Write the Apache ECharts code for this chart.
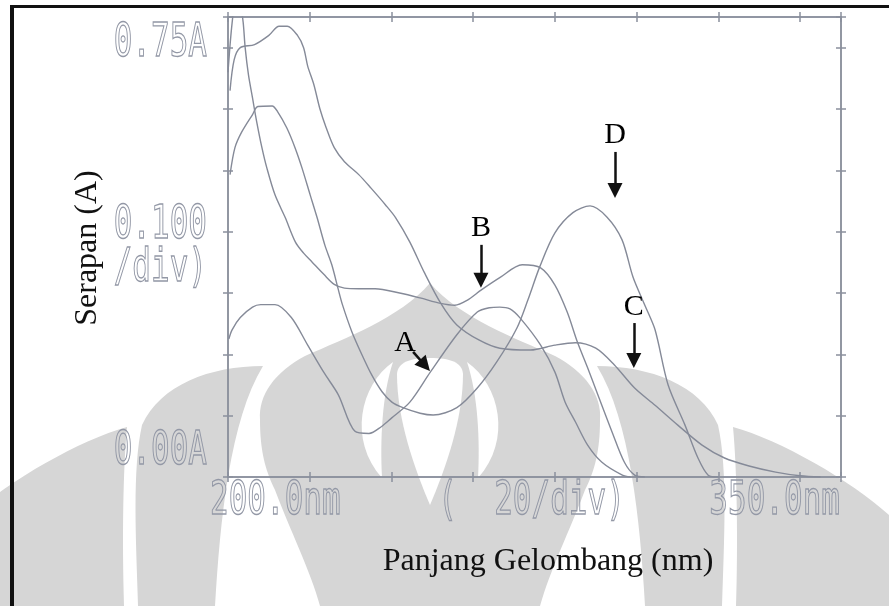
<!DOCTYPE html>
<html>
<head>
<meta charset="utf-8">
<script src="https://cdn.jsdelivr.net/npm/echarts@6/dist/echarts.min.js"></script>
<style>
  html, body { margin: 0; padding: 0; background: #ffffff; }
  #chart { width: 889px; height: 606px; }
</style>
</head>
<body>
<div id="chart"></div>
<script>
// Absorption spectra of four samples (A-D), 200-350 nm, 0-0.75 A.
const curveA_nm  = [200.2, 201, 203, 206, 208, 211.5, 215.5, 219.5, 223.5, 227, 231, 234.5, 237.5, 240, 244.5, 249.5, 256, 261, 264, 266.5, 269, 271.5, 276.5, 280, 282.5, 285, 288, 291.5, 296.5, 298.5];
const curveA_abs = [0.225, 0.24, 0.26, 0.277, 0.281, 0.281, 0.26, 0.215, 0.17, 0.134, 0.075, 0.071, 0.082, 0.096, 0.122, 0.171, 0.232, 0.269, 0.276, 0.277, 0.274, 0.259, 0.215, 0.171, 0.122, 0.09, 0.052, 0.024, 0.003, 0];

const curveB_nm  = [200, 201, 202, 203, 203.7, 204.2, 205, 206, 207, 208.3, 209.5, 211.5, 214, 216.5, 218.5, 220.5, 223.5, 226, 228.5, 232, 236, 242, 247, 252, 255.5, 258.5, 262, 266.5, 272, 276.5, 280, 283, 285.5, 288, 290.5, 294, 297, 299.5, 302];
const curveB_abs = [0.66, 0.74, 0.78, 0.77, 0.742, 0.70, 0.656, 0.618, 0.58, 0.537, 0.504, 0.46, 0.423, 0.383, 0.365, 0.351, 0.33, 0.314, 0.308, 0.307, 0.307, 0.30, 0.292, 0.283, 0.28, 0.288, 0.305, 0.325, 0.346, 0.341, 0.313, 0.269, 0.22, 0.178, 0.134, 0.073, 0.024, 0.003, 0];

const curveC_nm  = [200.5, 201.5, 203, 206.5, 210, 212.5, 214.5, 217, 218.5, 219.5, 221, 222.5, 224, 226, 228.5, 232, 235, 238.5, 241, 244.5, 248, 252, 256, 261.5, 266.5, 274, 280, 285, 290, 294.5, 299.5, 304.5, 310, 316, 321.5, 327.5, 334, 340, 345];
const curveC_abs = [0.63, 0.68, 0.70, 0.705, 0.72, 0.735, 0.735, 0.72, 0.70, 0.67, 0.64, 0.60, 0.57, 0.537, 0.514, 0.493, 0.471, 0.444, 0.423, 0.383, 0.334, 0.284, 0.248, 0.223, 0.21, 0.207, 0.215, 0.219, 0.21, 0.183, 0.145, 0.117, 0.085, 0.052, 0.031, 0.018, 0.008, 0.002, 0];

const curveD_nm  = [200.5, 201.7, 203.4, 206, 207.3, 210.8, 212.2, 214.4, 216.4, 218.1, 220.1, 221.8, 223.7, 225.4, 226.9, 228, 230.3, 232.8, 235.2, 237.7, 240.1, 242.8, 247, 250.2, 256, 261, 265.8, 270.7, 273.4, 276.3, 280, 284.4, 288.6, 292.7, 296.4, 299.1, 302, 304.5, 307.7, 311.8, 315, 317.5, 320];
const curveD_abs = [0.493, 0.537, 0.563, 0.591, 0.604, 0.605, 0.595, 0.569, 0.537, 0.504, 0.46, 0.423, 0.378, 0.346, 0.308, 0.281, 0.237, 0.199, 0.166, 0.139, 0.122, 0.113, 0.104, 0.101, 0.113, 0.145, 0.188, 0.243, 0.289, 0.343, 0.398, 0.431, 0.442, 0.424, 0.387, 0.326, 0.28, 0.24, 0.15, 0.085, 0.031, 0.003, 0];

// Plotter-style axis annotations
const xTickValues = [200, 275, 350];
const xTickLabels = ['200.0nm', '(  20/div)', '350.0nm'];
const yTickValues = [0.75, 0.375, 0];
const yTickLabels = [['0.75A'], ['0.100', '/div)'], ['0.00A']];

const xTitle = 'Panjang Gelombang (nm)';
const yTitle = 'Serapan (A)';

// Pointer arrows (data coordinates): [from, to]
const arrows = {
  A: [[245.3, 0.204], [248.2, 0.182]],
  B: [[261.9, 0.3785], [261.9, 0.3206]],
  C: [[299.3, 0.251], [299.3, 0.190]],
  D: [[294.7, 0.530], [294.7, 0.467]]
};

const AXIS_COLOR = '#8b909d';
const TEXT_GRAY = '#9398a6';
const CURVE_COLOR = '#858a98';
const EMBLEM_GRAY = '#d6d6d6';
const INK = '#111111';

const chart = echarts.init(document.getElementById('chart'), null, { renderer: 'canvas' });

function xAxisDef(position, inside) {
  return {
    type: 'value', position, min: 200, max: 350, interval: 20,
    axisLine: { show: true, onZero: false, lineStyle: { color: AXIS_COLOR, width: 1.5 } },
    axisTick: { show: true, inside, length: 5, lineStyle: { color: AXIS_COLOR, width: 1.5 } },
    axisLabel: { show: false }, splitLine: { show: false }
  };
}
function yAxisDef(position, inside) {
  return {
    type: 'value', position, min: 0, max: 0.75, interval: 0.1,
    axisLine: { show: true, onZero: false, lineStyle: { color: AXIS_COLOR, width: 1.5 } },
    axisTick: { show: true, inside, length: 5, lineStyle: { color: AXIS_COLOR, width: 1.5 } },
    axisLabel: { show: false }, splitLine: { show: false }
  };
}

function spectrum(name, nm, abs, arrow, labelDistance) {
  return {
    type: 'line', name,
    data: nm.map((x, i) => [x, abs[i]]),
    xAxisIndex: 0, yAxisIndex: 0,
    showSymbol: false, smooth: 0.3, clip: true, animation: false, silent: true,
    lineStyle: { color: CURVE_COLOR, width: 1.4 },
    markLine: {
      silent: true, animation: false,
      symbol: ['none', 'triangle'], symbolSize: 15,
      lineStyle: { color: INK, width: 2.5, type: 'solid' },
      itemStyle: { color: INK },
      label: {
        show: true, position: 'start', formatter: name, distance: labelDistance,
        color: '#000', fontFamily: '"Liberation Serif", "Times New Roman", serif', fontSize: 30
      },
      emphasis: { disabled: true },
      data: [[{ coord: arrow[0] }, { coord: arrow[1] }]]
    }
  };
}

const option = {
  backgroundColor: '#ffffff',
  animation: false,
  grid: { left: 228, right: 48, top: 17, bottom: 129, containLabel: false },
  xAxis: [xAxisDef('bottom', false), xAxisDef('bottom', true), xAxisDef('top', false), xAxisDef('top', true)],
  yAxis: [yAxisDef('left', false), yAxisDef('left', true), yAxisDef('right', false), yAxisDef('right', true)],
  series: [
    spectrum('A', curveA_nm, curveA_abs, arrows.A, 12),
    spectrum('B', curveB_nm, curveB_abs, arrows.B, 2),
    spectrum('C', curveC_nm, curveC_abs, arrows.C, 1),
    spectrum('D', curveD_nm, curveD_abs, arrows.D, 2)
  ]
};
chart.setOption(option);

// ---------- page decoration: faint background emblem ----------
// outline helper: start point + list of cubic [c1x,c1y,c2x,c2y,x,y] or line [x,y] segments
function outline(start, segs) {
  const pts = [start.slice()];
  let cur = start.slice();
  segs.forEach(s => {
    if (s.length === 2) { pts.push(s.slice()); cur = s.slice(); return; }
    const [ax, ay, bx, by, ex, ey] = s;
    for (let k = 1; k <= 16; k++) {
      const t = k / 16, u = 1 - t;
      pts.push([
        u * u * u * cur[0] + 3 * u * u * t * ax + 3 * u * t * t * bx + t * t * t * ex,
        u * u * u * cur[1] + 3 * u * u * t * ay + 3 * u * t * t * by + t * t * t * ey
      ]);
    }
    cur = [ex, ey];
  });
  return pts;
}
const AXIS_MID = 430;
const mirror = pts => pts.map(p => [2 * AXIS_MID - p[0], p[1]]);
const symmetric = half => half.concat(mirror(half).reverse());
function emblemPart(points, fill) {
  return { type: 'polygon', silent: true, z: -5, shape: { points }, style: { fill } };
}

const domeHalf = outline([430, 283], [
  [460, 318, 515, 338, 555, 356],
  [585, 372, 602, 395, 600, 420],
  [600, 450, 595, 470, 585, 490],
  [570, 530, 550, 570, 540, 606],
  [430, 606]
]);
const tongueHalf = outline([430, 358], [
  [450, 358, 462, 362, 463, 374],
  [463, 420, 445, 470, 430, 505]
]);
const crescentR = outline([467, 362], [
  [500, 385, 512, 440, 478, 478],
  [480, 440, 478, 395, 467, 362]
]);
const sailR = outline([597, 366], [
  [650, 366, 700, 385, 718, 425],
  [728, 470, 724, 540, 722, 606],
  [645, 606],
  [640, 520, 630, 420, 597, 366]
]);
const wingR = outline([733, 427], [
  [780, 440, 850, 480, 889, 515],
  [889, 606],
  [736, 606],
  [738, 540, 737, 470, 733, 427]
]);

const graphics = [
  emblemPart(symmetric(domeHalf), EMBLEM_GRAY),
  emblemPart(symmetric(tongueHalf), '#ffffff'),
  emblemPart(crescentR, '#ffffff'),
  emblemPart(mirror(crescentR), '#ffffff'),
  emblemPart(sailR, EMBLEM_GRAY),
  emblemPart(mirror(sailR), EMBLEM_GRAY),
  emblemPart(wingR, EMBLEM_GRAY),
  emblemPart(mirror(wingR), EMBLEM_GRAY)
];

// frame
graphics.push({ type: 'rect', silent: true, z: 10, shape: { x: 10, y: 5, width: 880, height: 3 }, style: { fill: INK } });
graphics.push({ type: 'rect', silent: true, z: 10, shape: { x: 10, y: 5, width: 4, height: 602 }, style: { fill: INK } });

// ---------- plotter labels placed from the axis scales ----------
const toX = v => chart.convertToPixel({ xAxisIndex: 0 }, v);
const toY = v => chart.convertToPixel({ yAxisIndex: 0 }, v);

const PLOT_FONT = '31px "DejaVu Sans Mono", monospace';
function plotterText(text, x, y, align) {
  return {
    type: 'text', x, y, scaleY: 1.5, originX: 0, originY: 0, silent: true, z: 5,
    style: { text, x: 0, y: 0, align, verticalAlign: 'middle', font: PLOT_FONT,
             fill: 'none', stroke: TEXT_GRAY, lineWidth: 0.9 }
  };
}

const yLeft = toX(200) - 21;
const yOffsets = [27, 0, -25];
yTickValues.forEach((v, i) => {
  const lines = yTickLabels[i];
  const cy = toY(v) + yOffsets[i];
  const step = 43;
  lines.forEach((t, j) => {
    graphics.push(plotterText(t, yLeft, cy + (j - (lines.length - 1) / 2) * step, 'right'));
  });
});

const xRowY = toY(0) + 25;
const xAligns = ['left', 'center', 'right'];
const xShift = [-18, -3, -1];
xTickValues.forEach((v, i) => {
  graphics.push(plotterText(xTickLabels[i], toX(v) + xShift[i], xRowY, xAligns[i]));
});

// axis titles
const TITLE_FONT = '32px "Liberation Serif", "Times New Roman", serif';
graphics.push({
  type: 'text', x: 88, y: 248, rotation: Math.PI / 2, silent: true, z: 5,
  style: { text: yTitle, x: 0, y: 0, align: 'center', verticalAlign: 'middle', font: TITLE_FONT, fill: INK }
});
graphics.push({
  type: 'text', x: 548, y: 562, silent: true, z: 5,
  style: { text: xTitle, x: 0, y: 0, align: 'center', verticalAlign: 'middle', font: TITLE_FONT, fill: INK }
});

chart.setOption({ graphic: graphics });
</script>
</body>
</html>
